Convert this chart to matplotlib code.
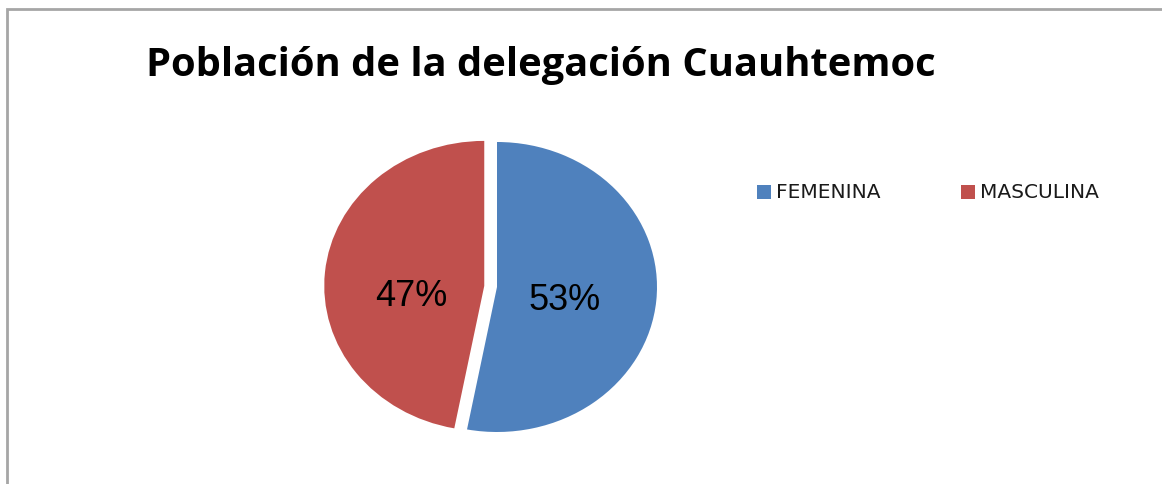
import matplotlib.pyplot as plt
from matplotlib.patches import Rectangle

# data
labels = ["FEMENINA", "MASCULINA"]
values = [53, 47]
colors = ["#4F81BD", "#C0504D"]
title = "Población de la delegación Cuauhtemoc"

W, H = 1162, 485
fig = plt.figure(figsize=(W / 100, H / 100), dpi=100)

# chart frame (cut off at right / bottom like the screenshot)
fig.patches.append(Rectangle((7 / W, -0.1), 1.2, 1 - 9.5 / H + 0.1,
                             transform=fig.transFigure, fill=False,
                             edgecolor="#a6a6a6", linewidth=2))

# pie axes: ellipse ~320 x 290 px centred at (497, 288)
cx, cy, rx, ry = 497, 288, 160, 145
ax = fig.add_axes([(cx - rx) / W, 1 - (cy + ry) / H, 2 * rx / W, 2 * ry / H])
wedges, texts = ax.pie(values, colors=colors, startangle=90, counterclock=False,
                       explode=[0, 0.08], radius=1.0, center=(0, 0),
                       wedgeprops=dict(linewidth=0))
ax.set_aspect("auto")
ax.set_xlim(-1, 1)
ax.set_ylim(-1, 1)

pct_pos = [(565, 300), (411, 297)]
for v, (px, py) in zip(values, pct_pos):
    fig.text(px / W, 1 - py / H, f"{v}%", ha="center", va="center",
             fontsize=26, family="Liberation Sans", color="black")

fig.text(146 / W, 1 - 76 / H, title, ha="left", va="baseline",
         fontsize=28.7, family="Open Sans", fontweight="bold", color="black")

# legend
leg_x = [757, 961]
for (lx, lab, col) in zip(leg_x, labels, colors):
    fig.patches.append(Rectangle((lx / W, 1 - 200 / H), 14 / W, 14 / H,
                                 transform=fig.transFigure, facecolor=col,
                                 edgecolor="none"))
    fig.text((lx + 19) / W, 1 - 193 / H, lab, ha="left", va="center",
             fontsize=14.5, family="DejaVu Sans", color="#1a1a1a")

fig.savefig("out.png", dpi=100)
